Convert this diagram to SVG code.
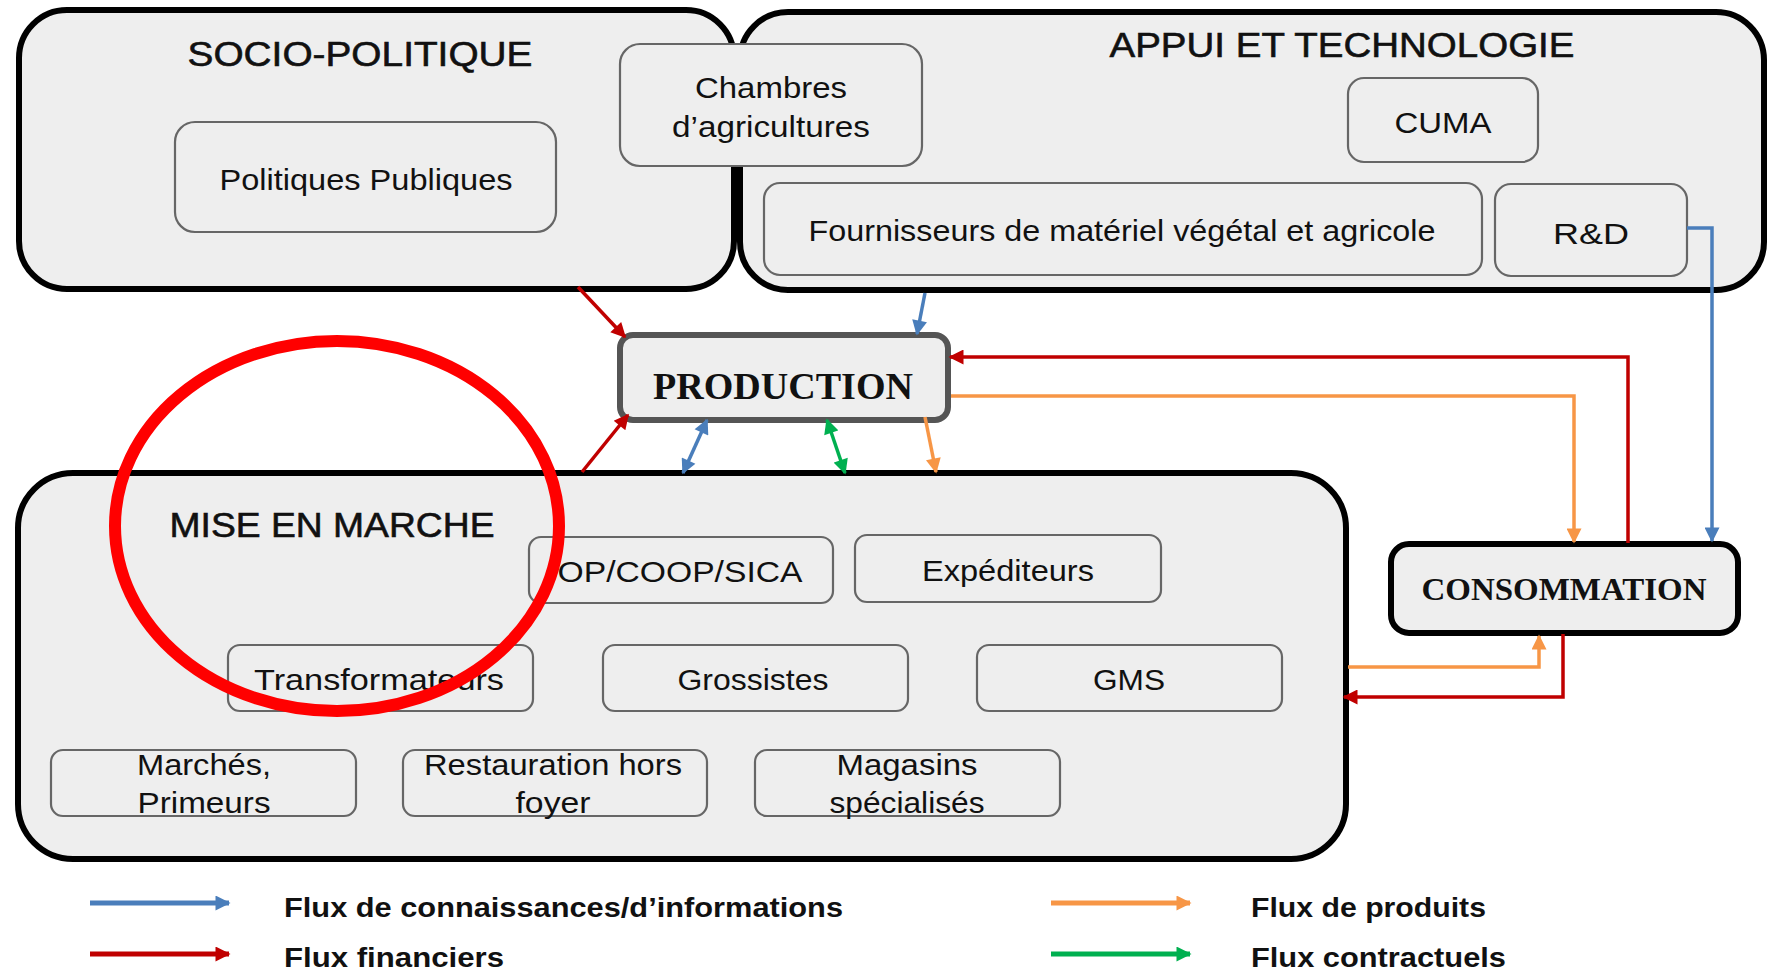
<svg xmlns="http://www.w3.org/2000/svg" width="1767" height="973" viewBox="0 0 1767 973">
<style>
.grp{fill:#eeeeee;stroke:#000;stroke-width:6}
.node{fill:#eeeeee;stroke:#666;stroke-width:2.2}
.head{font-family:"Liberation Sans",Arial,sans-serif;font-size:35px;fill:#111;stroke:#111;stroke-width:0.6;text-anchor:middle}
.lbl{font-family:"Liberation Sans",Arial,sans-serif;font-size:29px;fill:#111;text-anchor:middle}
.big{font-family:"Liberation Serif","Times New Roman",serif;font-weight:bold;fill:#111;text-anchor:middle}
.leg{font-family:"Liberation Sans",Arial,sans-serif;font-size:27px;fill:#111}
.c{fill:none;stroke-width:3.5;stroke-linejoin:miter}
.b{stroke:#4a7ebb}.r{stroke:#c00000}.o{stroke:#f79646}.g{stroke:#00b050}
</style>
<defs>
<marker id="mb" viewBox="0 0 10 10" refX="9" refY="5" markerWidth="17" markerHeight="15" markerUnits="userSpaceOnUse" orient="auto-start-reverse"><path d="M0,0 L10,5 L0,10 z" fill="#4a7ebb"/></marker>
<marker id="mr" viewBox="0 0 10 10" refX="9" refY="5" markerWidth="17" markerHeight="15" markerUnits="userSpaceOnUse" orient="auto-start-reverse"><path d="M0,0 L10,5 L0,10 z" fill="#c00000"/></marker>
<marker id="mo" viewBox="0 0 10 10" refX="9" refY="5" markerWidth="17" markerHeight="15" markerUnits="userSpaceOnUse" orient="auto-start-reverse"><path d="M0,0 L10,5 L0,10 z" fill="#f79646"/></marker>
<marker id="mg" viewBox="0 0 10 10" refX="9" refY="5" markerWidth="17" markerHeight="15" markerUnits="userSpaceOnUse" orient="auto-start-reverse"><path d="M0,0 L10,5 L0,10 z" fill="#00b050"/></marker>
</defs>
<rect width="1767" height="973" fill="#fff"/>

<g id="socio-politique">
<rect class="grp" x="19" y="10" width="715" height="279" rx="48"/>
<text class="head" x="360" y="66" textLength="345" lengthAdjust="spacingAndGlyphs">SOCIO-POLITIQUE</text>
</g>
<g id="appui-technologie">
<rect class="grp" x="740" y="12" width="1024" height="278" rx="48"/>
<text class="head" x="1342" y="57" textLength="465" lengthAdjust="spacingAndGlyphs">APPUI ET TECHNOLOGIE</text>
</g>
<g id="politiques-publiques">
<rect class="node" x="175" y="122" width="381" height="110" rx="20"/>
<text class="lbl" x="366" y="190" textLength="293" lengthAdjust="spacingAndGlyphs">Politiques Publiques</text>
</g>
<g id="chambres">
<rect class="node" x="620" y="44" width="302" height="122" rx="20"/>
<text class="lbl" x="771" y="98" textLength="152" lengthAdjust="spacingAndGlyphs">Chambres</text>
<text class="lbl" x="771" y="137" textLength="198" lengthAdjust="spacingAndGlyphs">d’agricultures</text>
</g>
<g id="cuma">
<rect class="node" x="1348" y="78" width="190" height="84" rx="16"/>
<text class="lbl" x="1443" y="133" textLength="97" lengthAdjust="spacingAndGlyphs">CUMA</text>
</g>
<g id="fournisseurs">
<rect class="node" x="764" y="183" width="718" height="92" rx="16"/>
<text class="lbl" x="1122" y="241" textLength="627" lengthAdjust="spacingAndGlyphs">Fournisseurs de matériel végétal et agricole</text>
</g>
<g id="rd">
<rect class="node" x="1495" y="184" width="192" height="92" rx="16"/>
<text class="lbl" x="1591" y="244" textLength="76" lengthAdjust="spacingAndGlyphs">R&amp;D</text>
</g>

<g id="production">
<rect x="620" y="335" width="328" height="85" rx="13" fill="#eeeeee" stroke="#555" stroke-width="6"/>
<text class="big" x="783" y="399" font-size="37" textLength="260" lengthAdjust="spacingAndGlyphs">PRODUCTION</text>
</g>
<g id="consommation">
<rect x="1391" y="544" width="347" height="89" rx="18" fill="#eeeeee" stroke="#000" stroke-width="6"/>
<text class="big" x="1564" y="600" font-size="32" textLength="285" lengthAdjust="spacingAndGlyphs">CONSOMMATION</text>
</g>

<g id="mise-en-marche">
<rect class="grp" x="18" y="473" width="1328" height="386" rx="55"/>
<text class="head" x="332" y="537" textLength="325" lengthAdjust="spacingAndGlyphs">MISE EN MARCHE</text>
</g>
<g id="op-coop-sica">
<rect class="node" x="529" y="537" width="304" height="66" rx="12"/>
<text class="lbl" x="680" y="582" textLength="245" lengthAdjust="spacingAndGlyphs">OP/COOP/SICA</text>
</g>
<g id="expediteurs">
<rect class="node" x="855" y="535" width="306" height="67" rx="12"/>
<text class="lbl" x="1008" y="581" textLength="172" lengthAdjust="spacingAndGlyphs">Expéditeurs</text>
</g>
<g id="transformateurs">
<rect class="node" x="228" y="645" width="305" height="66" rx="12"/>
<text class="lbl" x="379" y="690" textLength="250" lengthAdjust="spacingAndGlyphs">Transformateurs</text>
</g>
<g id="grossistes">
<rect class="node" x="603" y="645" width="305" height="66" rx="12"/>
<text class="lbl" x="753" y="690" textLength="151" lengthAdjust="spacingAndGlyphs">Grossistes</text>
</g>
<g id="gms">
<rect class="node" x="977" y="645" width="305" height="66" rx="12"/>
<text class="lbl" x="1129" y="690" textLength="72" lengthAdjust="spacingAndGlyphs">GMS</text>
</g>
<g id="marches-primeurs">
<rect class="node" x="51" y="750" width="305" height="66" rx="12"/>
<text class="lbl" x="204" y="775" textLength="134" lengthAdjust="spacingAndGlyphs">Marchés,</text>
<text class="lbl" x="204" y="813" textLength="133" lengthAdjust="spacingAndGlyphs">Primeurs</text>
</g>
<g id="restauration">
<rect class="node" x="403" y="750" width="304" height="66" rx="12"/>
<text class="lbl" x="553" y="775" textLength="258" lengthAdjust="spacingAndGlyphs">Restauration hors</text>
<text class="lbl" x="553" y="813" textLength="75" lengthAdjust="spacingAndGlyphs">foyer</text>
</g>
<g id="magasins">
<rect class="node" x="755" y="750" width="305" height="66" rx="12"/>
<text class="lbl" x="907" y="775" textLength="141" lengthAdjust="spacingAndGlyphs">Magasins</text>
<text class="lbl" x="907" y="813" textLength="155" lengthAdjust="spacingAndGlyphs">spécialisés</text>
</g>

<g id="connectors">
<path class="c r" d="M578,287 L625,337" marker-end="url(#mr)"/>
<path class="c b" d="M925,293 L917,334" marker-end="url(#mb)"/>
<path class="c r" d="M1628,543 L1628,357 L950,357" marker-end="url(#mr)"/>
<path class="c o" d="M951,396 L1574,396 L1574,542" marker-end="url(#mo)"/>
<path class="c b" d="M1687,228 L1712,228 L1712,541" marker-end="url(#mb)"/>
<path class="c r" d="M582,472 L628,415" marker-end="url(#mr)"/>
<path class="c b" d="M683,473 L707,420" marker-start="url(#mb)" marker-end="url(#mb)"/>
<path class="c g" d="M827,420 L845,473" marker-start="url(#mg)" marker-end="url(#mg)"/>
<path class="c o" d="M925,417 L936,472" marker-end="url(#mo)"/>
<path class="c o" d="M1348,667 L1539,667 L1539,636" marker-end="url(#mo)"/>
<path class="c r" d="M1563,634 L1563,697 L1344,697" marker-end="url(#mr)"/>
</g>

<g id="annotation">
<ellipse cx="337" cy="526" rx="222" ry="185" fill="none" stroke="#ff0000" stroke-width="12"/>
</g>

<g id="legend">
<path class="b" d="M90,903 L229,903" stroke-width="5" marker-end="url(#mb)"/>
<text class="leg" x="284" y="917" font-weight="bold" textLength="559" lengthAdjust="spacingAndGlyphs">Flux de connaissances/d’informations</text>
<path class="r" d="M90,954 L229,954" stroke-width="5" marker-end="url(#mr)"/>
<text class="leg" x="284" y="967" font-weight="bold" textLength="220" lengthAdjust="spacingAndGlyphs">Flux financiers</text>
<path class="o" d="M1051,903 L1190,903" stroke-width="5" marker-end="url(#mo)"/>
<text class="leg" x="1251" y="917" font-weight="bold" textLength="235" lengthAdjust="spacingAndGlyphs">Flux de produits</text>
<path class="g" d="M1051,954 L1190,954" stroke-width="5" marker-end="url(#mg)"/>
<text class="leg" x="1251" y="967" font-weight="bold" textLength="255" lengthAdjust="spacingAndGlyphs">Flux contractuels</text>
</g>
</svg>
